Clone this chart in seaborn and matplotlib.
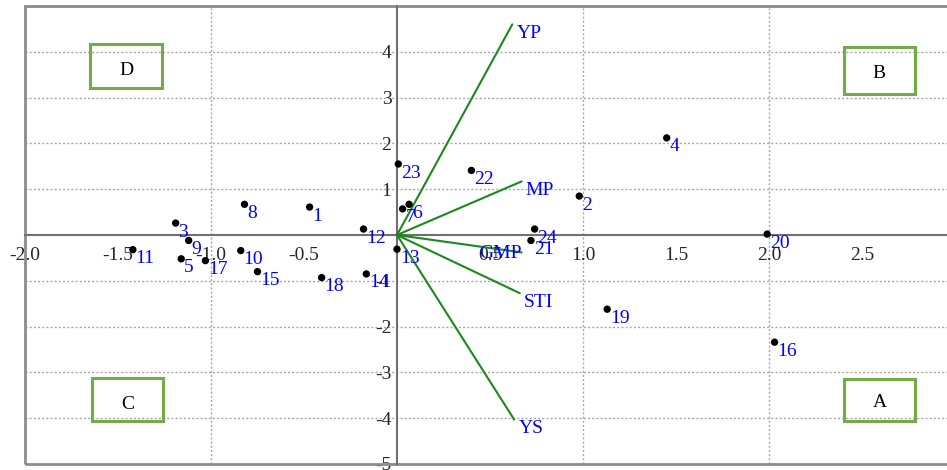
import matplotlib
matplotlib.use("Agg")
import matplotlib.pyplot as plt
import seaborn as sns
import pandas as pd
from matplotlib.patches import Rectangle
from matplotlib.transforms import Bbox, TransformedBbox

# --- Data ---
point_ids = [str(i) for i in range(1, 25)]
point_x = [-0.47, 0.98, -1.19, 1.45, -1.16, 0.065, 0.03, -0.82, -1.12, -0.84, -1.42, -0.18,
           0.00, -0.165, -0.75, 2.03, -1.03, -0.405, 1.13, 1.99, 0.72, 0.40, 0.007, 0.74]
point_y = [0.61, 0.85, 0.26, 2.12, -0.52, 0.67, 0.57, 0.67, -0.12, -0.34, -0.32, 0.13,
           -0.31, -0.85, -0.80, -2.34, -0.56, -0.93, -1.62, 0.02, -0.12, 1.41, 1.55, 0.13]

vector_names = ["YP", "MP", "GMP", "STI", "YS"]
vector_x = [0.62, 0.67, 0.67, 0.66, 0.63]
vector_y = [4.60, 1.17, -0.38, -1.27, -4.03]

quadrant_names = ["D", "B", "C", "A"]

x_ticks = [-2.0, -1.5, -1.0, -0.5, 0.5, 1.0, 1.5, 2.0, 2.5]
y_ticks = [-5, -4, -3, -2, -1, 1, 2, 3, 4]

points = pd.DataFrame({"id": point_ids, "x": point_x, "y": point_y})

# --- Style ---
sns.set_style("white")
plt.rcParams["font.family"] = ["Liberation Serif", "DejaVu Serif"]

fig = plt.figure(figsize=(9.47, 4.70), dpi=100)
# axes extends a bit past the right edge, like the cropped original
ax = fig.add_axes([25 / 947, 6 / 470, 930 / 947, 458 / 470])
ax.set_xlim(-2.0, 3.0)
ax.set_ylim(-5.0, 5.0)

# dotted grid
for gx in [-1.0, 1.0, 2.0]:
    ax.axvline(gx, color="#a8a8a8", lw=1.0, ls=(0, (1.5, 1.5)), zorder=0)
for gy in range(-4, 5):
    if gy != 0:
        ax.axhline(gy, color="#a8a8a8", lw=1.0, ls=(0, (1.5, 1.5)), zorder=0)

# outer frame
ax.add_patch(Rectangle((0, 0), 1, 1, transform=ax.transAxes, fill=False,
                       ec="#8c8c8c", lw=2.0, clip_on=False, zorder=1))

# axes through the origin
for side in ["top", "right"]:
    ax.spines[side].set_visible(False)
for side in ["left", "bottom"]:
    ax.spines[side].set_position(("data", 0))
    ax.spines[side].set_color("#707070")
    ax.spines[side].set_linewidth(1.5)
    ax.spines[side].set_zorder(2)

ax.set_xticks(x_ticks)
ax.set_xticklabels([f"{v:.1f}" for v in x_ticks])
ax.set_yticks(y_ticks)
ax.set_yticklabels([str(v) for v in y_ticks])
ax.tick_params(axis="x", direction="out", length=3, width=1, color="#707070",
               labelsize=14, pad=6)
ax.tick_params(axis="y", direction="out", length=3, width=1, color="#707070",
               labelsize=14, pad=1)

# trait vectors
green = "#1a8a1a"
for name, vx, vy in zip(vector_names, vector_x, vector_y):
    ax.plot([0, vx], [0, vy], color=green, lw=1.5, zorder=3)
    if name == "GMP":
        ax.annotate(name, (vx, vy), xytext=(0, -0.5), textcoords="offset points",
                    ha="right", va="center", color="blue", fontsize=14, zorder=5)
    else:
        ax.annotate(name, (vx, vy), xytext=(3, -6.5), textcoords="offset points",
                    ha="left", va="center", color="blue", fontsize=14, zorder=5)

# genotype points
sns.scatterplot(data=points, x="x", y="y", color="black", s=28, edgecolor="none",
                ax=ax, zorder=4, legend=False)
for _, row in points.iterrows():
    ax.annotate(row["id"], (row["x"], row["y"]), xytext=(2, -6.5),
                textcoords="offset points", ha="left", va="center",
                color="blue", fontsize=14, zorder=5)

ax.set_xlabel("")
ax.set_ylabel("")

# quadrant boxes (axes fraction)
boxes = {
    "D": (0.0699, 0.821, 0.0774, 0.096),
    "B": (0.8806, 0.808, 0.0763, 0.1026),
    "C": (0.0720, 0.0939, 0.0763, 0.0939),
    "A": (0.8806, 0.0939, 0.0763, 0.0917),
}
text_y = {"D": 0.40, "B": 0.44, "C": 0.39, "A": 0.44}
clip_h = {"D": 0.25, "B": 0.0, "C": 0.28, "A": 0.0}
for name in quadrant_names:
    bx, by, bw, bh = boxes[name]
    ax.add_patch(Rectangle((bx, by), bw, bh, transform=ax.transAxes, fill=False,
                           ec="#70ad47", lw=2.2, zorder=6))
    t = ax.text(bx + bw / 2, by + bh * text_y[name], name, transform=ax.transAxes,
                ha="center", va="center", fontsize=14, color="black", zorder=7)
    # the original text boxes cut off the bottom of some letters
    clip_box = Bbox.from_bounds(bx, by + bh * clip_h[name], bw, bh * (1 - clip_h[name]))
    t.set_clip_box(TransformedBbox(clip_box, ax.transAxes))
    t.set_clip_on(True)

fig.savefig("out.png", dpi=100)
